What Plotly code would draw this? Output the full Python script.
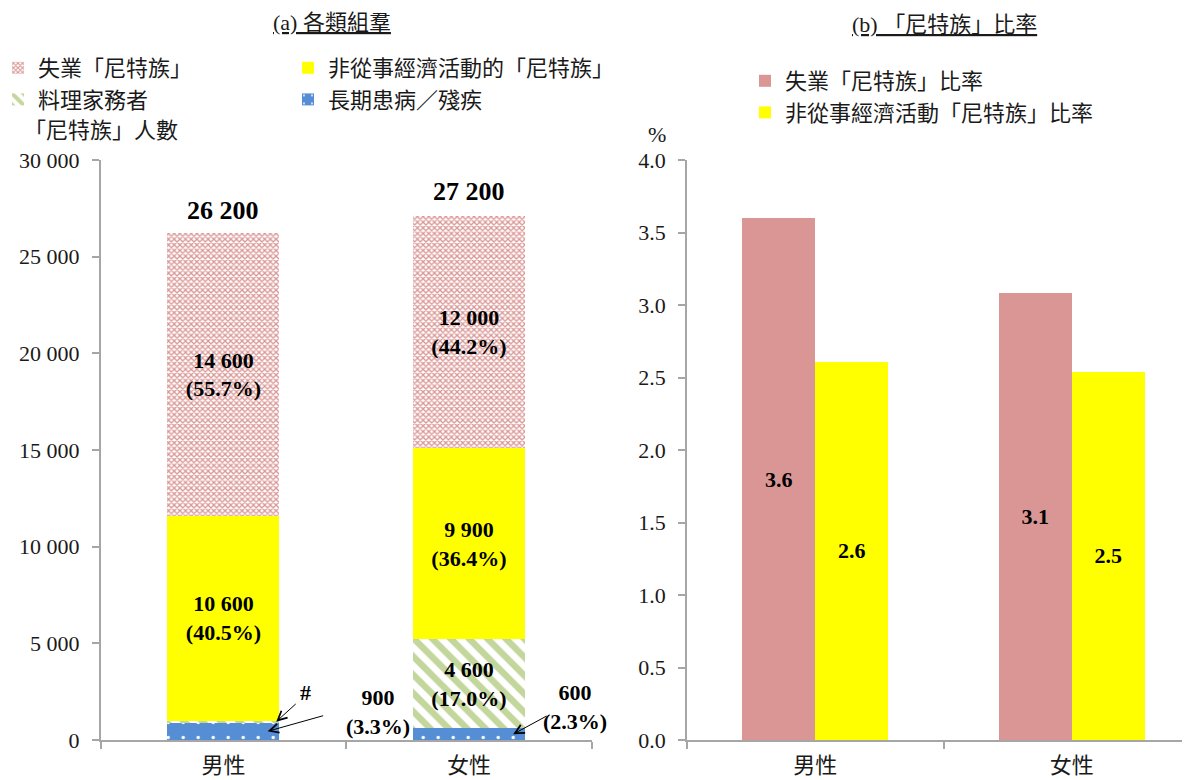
import plotly.graph_objects as go
import numpy as np

# ---------------- data ----------------
categories = ["男性", "女性"]

# panel (a): number of NEET youths by category
ill_disabled = [900, 600]        # 長期患病／殘疾
homemakers = [100, 4600]         # 料理家務者 (male value shown as "#")
inactive = [10600, 9900]         # 非從事經濟活動的「尼特族」
unemployed = [14600, 12000]      # 失業「尼特族」
totals = [26200, 27200]

ill_pct = [3.3, 2.3]
home_pct = [None, 17.0]
inactive_pct = [40.5, 36.4]
unemp_pct = [55.7, 44.2]

left_ticks = [0, 5000, 10000, 15000, 20000, 25000, 30000]

# panel (b): NEET rates (%)
unemp_rate = [3.60, 3.08]
inactive_rate = [2.61, 2.54]
right_ticks = [0.0, 0.5, 1.0, 1.5, 2.0, 2.5, 3.0, 3.5, 4.0]

# ---------------- styling ----------------
FONT = "Liberation Serif, Noto Sans CJK TC, serif"
TXT = "#1a1a1a"
AX = "#A6A6A6"
PINK = "#D99694"
YELLOW = "#FFFF00"
GREEN = "#C3D69B"
BLUE = "#558ED5"

OFF = 8                      # page body margin
W, H = 1190 - OFF, 780 - OFF
MT, MB = 152, 40
PH = H - MT - MB


def px_x(s):
    """screen x -> paper x"""
    return (s - OFF) / W


def px_y(s):
    """screen y -> paper y"""
    return (H - MB - (s - OFF)) / PH


def fmt(v):
    return f"{v:,}".replace(",", " ")


def seg_text(vals, pcts, show):
    return [f"{fmt(v)}<br>({p:.1f}%)" if s else "" for v, p, s in zip(vals, pcts, show)]


fig = go.Figure()

bar_font = dict(family=FONT, size=22, color="black", weight="bold")
LW = 0.456

fig.add_trace(go.Bar(
    x=categories, y=ill_disabled, name="長期患病／殘疾", xaxis="x", yaxis="y",
    width=LW, legend="legend2",
    marker=dict(color=BLUE, line=dict(width=0),
                pattern=dict(shape=".", fillmode="replace", bgcolor=BLUE, fgcolor="white",
                             size=15, solidity=0.04)),
    text=["", ""], textposition="none", hoverinfo="skip",
))
fig.add_trace(go.Bar(
    x=categories, y=homemakers, name="料理家務者", xaxis="x", yaxis="y",
    width=LW, legend="legend",
    marker=dict(color=GREEN, line=dict(width=0),
                pattern=dict(shape="\\", fillmode="replace", bgcolor="white", fgcolor=GREEN,
                             size=13, solidity=0.5)),
    text=seg_text(homemakers, [0, home_pct[1]], [False, True]),
    textposition="inside", insidetextanchor="middle", textangle=0,
    constraintext="none", insidetextfont=bar_font, hoverinfo="skip",
))
fig.add_trace(go.Bar(
    x=categories, y=inactive, name="非從事經濟活動的「尼特族」", xaxis="x", yaxis="y",
    width=LW, legend="legend2",
    marker=dict(color=YELLOW, line=dict(width=0)),
    text=seg_text(inactive, inactive_pct, [True, True]),
    textposition="inside", insidetextanchor="middle", textangle=0,
    constraintext="none", insidetextfont=bar_font, hoverinfo="skip",
))
fig.add_trace(go.Bar(
    x=categories, y=unemployed, name="失業「尼特族」", xaxis="x", yaxis="y",
    width=LW, legend="legend",
    marker=dict(color=PINK, line=dict(width=0),
                pattern=dict(shape="x", fillmode="replace", bgcolor="white", fgcolor=PINK,
                             size=4, solidity=0.55)),
    text=seg_text(unemployed, unemp_pct, [True, True]),
    textposition="inside", insidetextanchor="middle", textangle=0,
    constraintext="none", insidetextfont=bar_font, hoverinfo="skip",
))

# panel (b)
fig.add_trace(go.Bar(
    x=categories, y=unemp_rate, name="失業「尼特族」比率", xaxis="x2", yaxis="y2",
    offsetgroup="b1", legend="legend3",
    marker=dict(color=PINK, line=dict(width=0)),
    texttemplate="%{y:.1f}", textposition="inside", insidetextanchor="middle",
    textangle=0, constraintext="none", insidetextfont=bar_font, hoverinfo="skip",
))
fig.add_trace(go.Bar(
    x=categories, y=inactive_rate, name="非從事經濟活動「尼特族」比率", xaxis="x2", yaxis="y2",
    offsetgroup="b2", legend="legend3",
    marker=dict(color=YELLOW, line=dict(width=0)),
    texttemplate="%{y:.1f}", textposition="inside", insidetextanchor="middle",
    textangle=0, constraintext="none", insidetextfont=bar_font, hoverinfo="skip",
))

annotations = []
# totals above left bars
for c, t in zip(categories, totals):
    annotations.append(dict(x=c, y=t, xref="x", yref="y", text=fmt(t), showarrow=False,
                            xanchor="center", yanchor="bottom", yshift=6,
                            font=dict(family=FONT, size=26, color="black", weight="bold")))

lab_font = dict(family=FONT, size=22, color="black", weight="bold")
# outside labels for small segments
annotations.append(dict(x=0.63, y=1450, xref="x", yref="y", showarrow=False,
                        xanchor="center", yanchor="middle",
                        text=f"{fmt(ill_disabled[0])}<br>({ill_pct[0]:.1f}%)", font=lab_font))
annotations.append(dict(x=1.432, y=1700, xref="x", yref="y", showarrow=False,
                        xanchor="center", yanchor="middle",
                        text=f"{fmt(ill_disabled[1])}<br>({ill_pct[1]:.1f}%)", font=lab_font))
annotations.append(dict(x=0.333, y=2480, xref="x", yref="y", showarrow=False,
                        xanchor="center", yanchor="middle", text="#", font=lab_font))
# arrows
arrow_style = dict(xref="x", yref="y", text="", showarrow=True, arrowhead=5,
                   arrowsize=1.8, arrowwidth=1, arrowcolor="black", standoff=0)
annotations.append(dict(x=0.18, y=ill_disabled[0] / 2, ax=57, ay=-16, **arrow_style))
annotations.append(dict(x=0.215, y=ill_disabled[0] + homemakers[0] / 2, ax=21, ay=-19, **arrow_style))
annotations.append(dict(x=1.18, y=ill_disabled[1] / 2, ax=35, ay=-19, **arrow_style))

paper_txt = dict(xref="paper", yref="paper", showarrow=False, xanchor="center", yanchor="middle")
# titles (underlined)
title_font = dict(family=FONT, size=22, color=TXT, lineposition="under")
annotations.append(dict(x=px_x(332), y=px_y(22), text="(a) 各類組羣", font=title_font, **paper_txt))
annotations.append(dict(x=px_x(944), y=px_y(25), text="(b) 「尼特族」比率", font=title_font, **paper_txt))
# axis titles
annotations.append(dict(x=px_x(101), y=px_y(131), text="「尼特族」人數",
                        font=dict(family=FONT, size=22, color=TXT), **paper_txt))
annotations.append(dict(x=px_x(657), y=px_y(135), text="%",
                        font=dict(family=FONT, size=22, color=TXT), **paper_txt))

axis_common = dict(showline=True, linecolor=AX, linewidth=1.5, ticks="outside", ticklen=7,
                   tickcolor=AX, tickwidth=1.5, showgrid=False, zeroline=False,
                   tickfont=dict(family=FONT, size=22, color=TXT))

legend_font = dict(family=FONT, size=22, color=TXT)

fig.update_layout(
    width=W, height=H,
    margin=dict(l=0, r=0, t=MT, b=MB, autoexpand=False),
    paper_bgcolor="white", plot_bgcolor="white",
    barmode="stack", bargap=0.43, bargroupgap=0,
    separators=". ",
    xaxis=dict(domain=[px_x(100.7), px_x(591.7)], anchor="y", type="category",
               range=[-0.5, 1.5], tickson="boundaries", ticklabelstandoff=5, **axis_common),
    yaxis=dict(domain=[0, 1], anchor="x", range=[0, 30000], tickvals=left_ticks,
               tickformat=",", ticklabelstandoff=8, **axis_common),
    xaxis2=dict(domain=[px_x(687), 1.0], anchor="y2", type="category",
                range=[-0.5, 1.461], tickson="boundaries", ticklabelstandoff=5, **axis_common),
    yaxis2=dict(domain=[0, 1], anchor="x2", range=[0, 4], tickvals=right_ticks,
                tickformat=".1f", ticklabelstandoff=8, **axis_common),
    legend=dict(x=px_x(-2), y=px_y(47), xanchor="left", yanchor="top", traceorder="reversed",
                font=legend_font, bgcolor="rgba(0,0,0,0)"),
    legend2=dict(x=px_x(288), y=px_y(47), xanchor="left", yanchor="top", traceorder="reversed",
                 font=legend_font, bgcolor="rgba(0,0,0,0)"),
    legend3=dict(x=px_x(745), y=px_y(60), xanchor="left", yanchor="top", traceorder="normal",
                 font=legend_font, bgcolor="rgba(0,0,0,0)"),
    annotations=annotations,
    showlegend=True,
)

fig.write_html("out.html")
